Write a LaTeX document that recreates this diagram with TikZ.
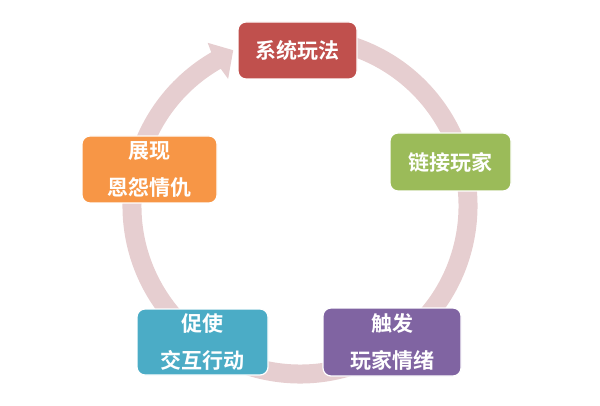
\documentclass[tikz,border=0pt]{standalone}
\usepackage{fontspec}
\setmainfont{Noto Sans CJK SC}[BoldFont={Noto Sans CJK SC Bold}]
\usetikzlibrary{calc}
\definecolor{ringc}{RGB}{230,206,208}
\definecolor{cred}{RGB}{192,80,77}
\definecolor{cgreen}{RGB}{155,187,89}
\definecolor{cpurple}{RGB}{128,100,162}
\definecolor{caqua}{RGB}{75,172,198}
\definecolor{corange}{RGB}{247,150,70}
\begin{document}
\begin{tikzpicture}[x=1pt,y=1pt,
  stagebox/.style={rectangle, rounded corners=8pt, draw=white, line width=1.2pt,
    inner sep=0pt, align=center, text=white,
    font=\fontsize{21}{36.5}\selectfont\bfseries}]
\useasboundingbox (0,0) rectangle (600,405);
\coordinate (c) at (300,199);
% ring arrow
\fill[ringc] ($(c)+(80:177.5)$) arc[start angle=80, end angle=-240, radius=177.5]
  -- ($(c)+(-240.5:187.5)$) -- ($(c)+(-246.8:169.5)$) -- ($(c)+(-240.5:146)$)
  -- ($(c)+(-240:158.5)$) arc[start angle=-240, end angle=80, radius=158.5] -- cycle;
% boxes
\node[stagebox, fill=cred, minimum width=119pt, minimum height=57pt] (top) at (297.5,354.5) {系统玩法};
\node[stagebox, fill=cgreen, minimum width=121pt, minimum height=58pt] (right) at (450.5,243) {链接玩家};
\node[stagebox, fill=corange, minimum width=135pt, minimum height=67pt] (left) at (149.5,235.5) {展现\\恩怨情仇};
\node[stagebox, fill=caqua, minimum width=131pt, minimum height=66pt] (bl) at (202.5,63) {促使\\交互行动};
\node[stagebox, fill=cpurple, minimum width=138pt, minimum height=68pt] (br) at (392,63) {触发\\玩家情绪};
\end{tikzpicture}
\end{document}
